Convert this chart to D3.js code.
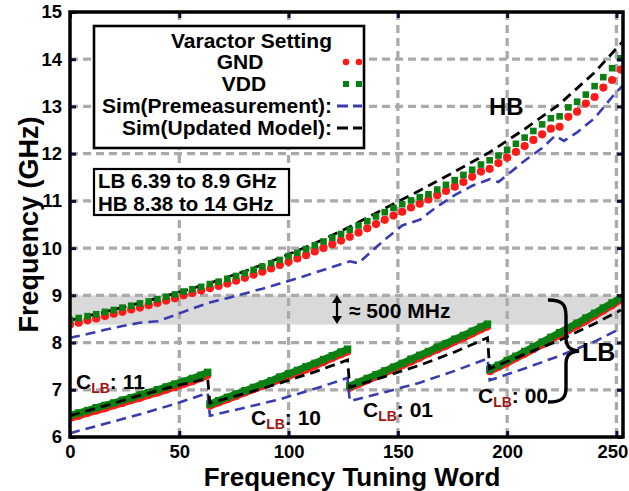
<!DOCTYPE html>
<html><head><meta charset="utf-8">
<script src="https://cdn.jsdelivr.net/npm/d3@7"></script>
<style>
body{margin:0;background:#fff}
svg{display:block}
text{font-family:"Liberation Sans",Arial,sans-serif;font-weight:bold;fill:#000}
</style>
</head><body>
<svg id="chart" width="629" height="491"></svg>
<script>
// ---------- data ----------
const xTicks = [0, 50, 100, 150, 200, 250];
const yTicks = [6, 7, 8, 9, 10, 11, 12, 13, 14, 15];
const xGrid = [50, 100, 150, 200, 250];
const yGrid = [7, 8, 9, 10, 11, 12, 13, 14];
const overlapBand = [8.38, 9.0];

// High band (HB), markers every 4 codes
const hbCodes = [0,4,8,12,16,20,24,28, 32,36,40,44,48,52,56,60,
  64,68,72,76,80,84,88,92, 96,100,104,108,112,116,120,124,
  128,132,136,140,144,148,152,156, 160,164,168,172,176,180,184,188,
  192,196,200,204,208,212,216,220, 224,228,232,236,240,244,248,252];
const hbGND = [8.38,8.42,8.47,8.51,8.56,8.61,8.65,8.70,
  8.74,8.79,8.84,8.89,8.94,9.00,9.05,9.10,
  9.15,9.20,9.25,9.31,9.37,9.44,9.50,9.57,
  9.64,9.71,9.78,9.85,9.93,10.00,10.08,10.16,
  10.24,10.33,10.42,10.51,10.60,10.69,10.77,10.86,
  10.94,11.03,11.12,11.21,11.30,11.40,11.51,11.62,
  11.68,11.80,11.92,12.04,12.16,12.29,12.41,12.53,
  12.57,12.78,12.89,13.06,13.20,13.40,13.56,13.78];
const hbVDD = [8.48,8.52,8.56,8.60,8.65,8.69,8.74,8.78,
  8.83,8.87,8.92,8.97,9.02,9.08,9.13,9.18,
  9.24,9.29,9.35,9.41,9.47,9.54,9.61,9.68,
  9.75,9.83,9.90,9.98,10.06,10.14,10.22,10.30,
  10.39,10.48,10.57,10.67,10.76,10.85,10.93,11.01,
  11.08,11.14,11.24,11.34,11.44,11.55,11.66,11.77,
  11.86,11.96,12.08,12.21,12.34,12.48,12.62,12.75,
  12.79,12.98,13.10,13.25,13.43,13.62,13.81,14.02];
const hbModelCodes = [0,16,32,48,64,80,96,112,128,144,160,176,192,208,224,240,253];
const hbModel = [8.47,8.65,8.84,9.04,9.26,9.51,9.79,10.10,10.45,10.84,11.22,11.62,12.03,12.52,13.05,13.72,14.38];
const hbPreCodes = [0,8,16,24,32,40,48,56,64,72,80,88,96,104,112,120,
  128,132,136,144,152,160,168,176,184,192,196,200,208,216,222,226,232,240,248,253];
const hbPre = [8.10,8.18,8.27,8.35,8.42,8.45,8.58,8.72,8.85,8.94,9.04,9.14,9.25,9.36,9.48,9.60,
  9.72,9.68,9.85,10.18,10.48,10.60,10.88,11.12,11.32,11.46,11.40,11.55,11.85,12.12,12.38,12.27,12.45,12.75,13.20,13.45];

// Low band (LB), four capacitor settings C_LB = 11, 10, 01, 00
const lbSettings = ["11", "10", "01", "00"];
const lbCodes = [
  [0,4,8,12,16,20,24,28,32,36,40,44,48,52,56,60,63],
  [64,68,72,76,80,84,88,92,96,100,104,108,112,116,120,124,127],
  [128,132,136,140,144,148,152,156,160,164,168,172,176,180,184,188,191],
  [192,196,200,204,208,212,216,220,224,228,232,236,240,244,248,252]
];
const lbGND = [
  [6.39,6.44,6.50,6.55,6.60,6.66,6.71,6.77,6.82,6.88,6.93,6.99,7.05,7.11,7.17,7.24,7.30],
  [6.65,6.72,6.79,6.86,6.93,7.00,7.07,7.14,7.21,7.28,7.35,7.42,7.50,7.58,7.66,7.74,7.80],
  [7.03,7.11,7.19,7.27,7.35,7.43,7.51,7.59,7.67,7.76,7.84,7.92,8.01,8.09,8.18,8.27,8.33],
  [7.38,7.47,7.56,7.66,7.75,7.85,7.95,8.05,8.15,8.25,8.35,8.45,8.56,8.67,8.78,8.90]
];
const lbVDD = [
  [6.46,6.51,6.56,6.62,6.67,6.72,6.78,6.83,6.89,6.94,7.00,7.06,7.12,7.18,7.24,7.31,7.37],
  [6.70,6.77,6.84,6.91,6.98,7.05,7.12,7.19,7.27,7.34,7.41,7.49,7.56,7.64,7.72,7.80,7.86],
  [7.08,7.16,7.24,7.32,7.40,7.48,7.56,7.65,7.73,7.81,7.90,7.98,8.07,8.15,8.24,8.33,8.39],
  [7.43,7.52,7.62,7.71,7.81,7.91,8.01,8.11,8.21,8.31,8.41,8.52,8.62,8.73,8.84,8.95]
];
const lbSimCodes = [0,16,32,48,63,64,80,96,112,127,128,144,160,176,191,192,208,224,240,252];
const lbModel = [6.45,6.66,6.88,7.08,7.24,6.72,6.92,7.14,7.38,7.63,7.05,7.28,7.52,7.80,8.10,7.45,7.75,8.05,8.40,8.69];
const lbPre   = [6.08,6.28,6.48,6.70,6.93,6.45,6.62,6.80,7.02,7.25,6.76,6.95,7.15,7.40,7.66,7.20,7.45,7.72,8.02,8.30];

const legendLabels = ["GND", "VDD", "Sim(Premeasurement):", "Sim(Updated Model):"];
const rangeText = ["LB 6.39 to 8.9 GHz", "HB 8.38 to 14 GHz"];

// ---------- drawing ----------
const RED = "#ff1a1a", GREEN = "#0b8012", BLUE = "#3b3bb0", BLACK = "#000";
const svg = d3.select("#chart");
const L = 70, R = 623, T = 12, B = 437;
const x = d3.scaleLinear().domain([0, 253]).range([L, R]);
const y = d3.scaleLinear().domain([6, 15]).range([B, T]);

svg.append("defs").append("clipPath").attr("id", "pc")
  .append("rect").attr("x", L).attr("y", T).attr("width", R - L).attr("height", B - T);

// overlap band
svg.append("rect").attr("x", L).attr("width", R - L)
  .attr("y", y(overlapBand[1])).attr("height", y(overlapBand[0]) - y(overlapBand[1]))
  .attr("fill", "#d9d9d9");

// grid
const grid = svg.append("g").attr("stroke", "#aaaaaa").attr("stroke-width", 3.3)
  .attr("stroke-dasharray", "8,5");
grid.selectAll(".gx").data(xGrid).join("line")
  .attr("x1", d => x(d)).attr("x2", d => x(d)).attr("y1", T).attr("y2", B);
grid.selectAll(".gy").data(yGrid).join("line")
  .attr("y1", d => y(d)).attr("y2", d => y(d)).attr("x1", L).attr("x2", R);

const plot = svg.append("g").attr("clip-path", "url(#pc)");

// LB bands (dense markers -> thick band)
const lineGen = d3.line().x(d => x(d[0])).y(d => y(d[1]));
lbCodes.forEach((codes, i) => {
  const g = codes.map((c, j) => [c, lbGND[i][j]]);
  const v = codes.map((c, j) => [c, lbVDD[i][j]]);
  plot.append("path").datum(g).attr("d", lineGen).attr("fill", "none")
    .attr("stroke", RED).attr("stroke-width", 6.5);
  plot.selectAll(null).data(g).join("circle").attr("cx", d => x(d[0])).attr("cy", d => y(d[1]))
    .attr("r", 3.5).attr("fill", RED);
  plot.append("path").datum(v).attr("d", lineGen).attr("fill", "none")
    .attr("stroke", GREEN).attr("stroke-width", 7);
  plot.selectAll(null).data(v).join("rect").attr("x", d => x(d[0]) - 3.7).attr("y", d => y(d[1]) - 3.7)
    .attr("width", 7.4).attr("height", 7.4).attr("fill", GREEN);
});

// simulation lines
function dashed(codes, vals, color, w) {
  plot.append("path").datum(codes.map((c, i) => [c, vals[i]])).attr("d", lineGen)
    .attr("fill", "none").attr("stroke", color).attr("stroke-width", w)
    .attr("stroke-dasharray", "10,6");
}
dashed(lbSimCodes, lbPre, BLUE, 2.6);
dashed(lbSimCodes, lbModel, BLACK, 2.8);
dashed(hbPreCodes, hbPre, BLUE, 2.6);
dashed(hbModelCodes, hbModel, BLACK, 2.8);

// HB markers
plot.selectAll(".hbg").data(hbCodes).join("circle")
  .attr("cx", d => x(d)).attr("cy", (d, i) => y(hbGND[i])).attr("r", 4.1).attr("fill", RED);
plot.selectAll(".hbv").data(hbCodes).join("rect")
  .attr("x", d => x(d) - 3.3).attr("y", (d, i) => y(hbVDD[i]) - 3.3)
  .attr("width", 6.6).attr("height", 6.6).attr("fill", GREEN);

// axes
const axB = d3.axisBottom(x).tickValues(xTicks).tickSize(-6).tickPadding(8);
const axL = d3.axisLeft(y).tickValues(yTicks).tickSize(-6).tickPadding(8);
const axT = d3.axisTop(x).tickValues(xTicks).tickSize(-6).tickFormat("");
const axR = d3.axisRight(y).tickValues(yTicks).tickSize(-6).tickFormat("");
function styleAxis(g) {
  g.select(".domain").remove();
  g.selectAll(".tick line").attr("stroke", "#10103a").attr("stroke-width", 3);
  g.selectAll(".tick text").attr("font-size", 18.5).attr("font-family", "Liberation Sans, Arial, sans-serif")
    .attr("font-weight", "bold").attr("fill", "#000");
}
const gB = svg.append("g").attr("transform", `translate(0,${B})`).call(axB).call(styleAxis);
gB.selectAll(".tick text").filter(d => d === 250).attr("dx", -4);
svg.append("g").attr("transform", `translate(${L},0)`).call(axL).call(styleAxis);
svg.append("g").attr("transform", `translate(0,${T})`).call(axT).call(styleAxis);
svg.append("g").attr("transform", `translate(${R},0)`).call(axR).call(styleAxis);
svg.append("rect").attr("x", L).attr("y", T).attr("width", R - L).attr("height", B - T)
  .attr("fill", "none").attr("stroke", "#000").attr("stroke-width", 3.5);

// axis titles
svg.append("text").attr("x", 352).attr("y", 486).attr("text-anchor", "middle")
  .attr("font-size", 26).text("Frequency Tuning Word");
svg.append("text").attr("transform", `translate(38,${(T + B) / 2}) rotate(-90)`)
  .attr("text-anchor", "middle").attr("font-size", 27).text("Frequency (GHz)");

// legend
const lg = svg.append("g");
lg.append("rect").attr("x", 94).attr("y", 26).attr("width", 270).attr("height", 122)
  .attr("fill", "#fff").attr("stroke", "#000").attr("stroke-width", 2.6);
lg.append("text").attr("x", 332).attr("y", 48).attr("text-anchor", "end").attr("font-size", 21).text("Varactor Setting");
lg.append("text").attr("x", 240).attr("y", 69).attr("text-anchor", "middle").attr("font-size", 21).text(legendLabels[0]);
lg.append("text").attr("x", 244).attr("y", 91).attr("text-anchor", "middle").attr("font-size", 21).text(legendLabels[1]);
lg.append("text").attr("x", 332).attr("y", 113).attr("text-anchor", "end").attr("font-size", 21).text(legendLabels[2]);
lg.append("text").attr("x", 332).attr("y", 135).attr("text-anchor", "end").attr("font-size", 21).text(legendLabels[3]);
[346, 359].forEach(cx => {
  lg.append("circle").attr("cx", cx).attr("cy", 62).attr("r", 3.3).attr("fill", RED);
  lg.append("rect").attr("x", cx - 3).attr("y", 81).attr("width", 6).attr("height", 6).attr("fill", GREEN);
});
lg.append("line").attr("x1", 337).attr("x2", 362).attr("y1", 106).attr("y2", 106)
  .attr("stroke", BLUE).attr("stroke-width", 3).attr("stroke-dasharray", "11,5");
lg.append("line").attr("x1", 337).attr("x2", 362).attr("y1", 128).attr("y2", 128)
  .attr("stroke", BLACK).attr("stroke-width", 3).attr("stroke-dasharray", "11,5");

// range box
svg.append("rect").attr("x", 94).attr("y", 169).attr("width", 195).attr("height", 46)
  .attr("fill", "#fff").attr("stroke", "#000").attr("stroke-width", 2.2);
svg.append("text").attr("x", 98).attr("y", 187.5).attr("font-size", 20.5).text(rangeText[0]);
svg.append("text").attr("x", 98).attr("y", 210.5).attr("font-size", 20.5).text(rangeText[1]);

// annotations
svg.append("text").attr("x", 489).attr("y", 115).attr("font-size", 24).text("HB");
svg.append("text").attr("x", 349).attr("y", 318).attr("font-size", 21).text("\u2248 500 MHz");
const ar = svg.append("g");
ar.append("line").attr("x1", 337).attr("x2", 337).attr("y1", 300).attr("y2", 319).attr("stroke", "#000").attr("stroke-width", 2.2);
ar.append("path").attr("d", "M337,295 L332,303 L342,303 Z").attr("fill", "#000");
ar.append("path").attr("d", "M337,324 L332,316 L342,316 Z").attr("fill", "#000");
svg.append("path")
  .attr("d", "M548,300 C562,300 566,304 566,316 L566,338 C566,347 570,350 579,351 C570,352 566,355 566,364 L566,388 C566,398 562,402 548,402")
  .attr("fill", "none").attr("stroke", "#000").attr("stroke-width", 3.4);
svg.append("text").attr("x", 582).attr("y", 361).attr("font-size", 25).text("LB");

// C_LB labels
const clbPos = [[76, 389], [251, 425], [363, 417], [478, 403]];
lbSettings.forEach((s, i) => {
  const t = svg.append("text").attr("x", clbPos[i][0]).attr("y", clbPos[i][1]).attr("font-size", 21);
  t.append("tspan").text("C");
  t.append("tspan").attr("font-size", 14).attr("dy", 4).attr("fill", "#a3140f").text("LB");
  t.append("tspan").attr("dy", -4).text(": " + s);
});
</script>
</body></html>
